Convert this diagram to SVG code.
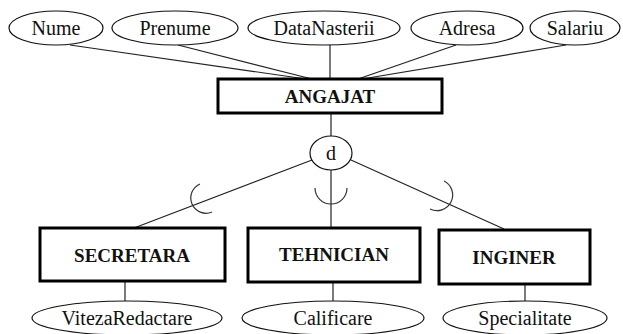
<svg xmlns="http://www.w3.org/2000/svg" width="623" height="334" viewBox="0 0 623 334">
  <style>
    .attr { fill: #fff; stroke: #111; stroke-width: 1.2; }
    .ent { fill: #fff; stroke: #000; stroke-width: 3; }
    .link { fill: none; stroke: #222; stroke-width: 1.2; }
    .sub { fill: none; stroke: #333; stroke-width: 1.2; }
    text { font-family: "Liberation Serif", "Times New Roman", serif; fill: #111; text-anchor: middle; }
    .lbl { font-size: 20px; }
    .ename { font-size: 19px; font-weight: bold; }
  </style>

  <!-- connectors -->
  <g id="connectors">
    <line class="link" x1="70" y1="45" x2="306" y2="79"/>
    <line class="link" x1="178" y1="45" x2="312" y2="79"/>
    <line class="link" x1="330" y1="45" x2="330" y2="79"/>
    <line class="link" x1="456" y1="45" x2="358" y2="79"/>
    <line class="link" x1="566" y1="45" x2="362" y2="79"/>
    <line class="link" x1="331" y1="113" x2="331" y2="136"/>
    <line class="link" x1="312" y1="160" x2="134" y2="228"/>
    <line class="link" x1="331" y1="170" x2="331" y2="228"/>
    <line class="link" x1="351" y1="160" x2="504" y2="229"/>
    <line class="link" x1="125" y1="281" x2="125" y2="301"/>
    <line class="link" x1="333" y1="282" x2="333" y2="301"/>
    <line class="link" x1="525" y1="284" x2="525" y2="301"/>
    <!-- subset marks -->
    <path class="sub" d="M 200 184 A 15 15 0 0 0 212 212"/>
    <path class="sub" d="M 315 188 A 16 16 0 0 0 347 188"/>
    <path class="sub" d="M 444 181 A 15 15 0 0 1 430 209"/>
  </g>

  <!-- top attributes -->
  <g id="attr-nume"><ellipse class="attr" cx="56" cy="28" rx="47" ry="17"/><text class="lbl" x="56" y="35">Nume</text></g>
  <g id="attr-prenume"><ellipse class="attr" cx="175" cy="28" rx="63" ry="17"/><text class="lbl" x="175" y="35">Prenume</text></g>
  <g id="attr-datanasterii"><ellipse class="attr" cx="324" cy="28" rx="76" ry="17"/><text class="lbl" x="324" y="35">DataNasterii</text></g>
  <g id="attr-adresa"><ellipse class="attr" cx="467" cy="28" rx="56" ry="17"/><text class="lbl" x="467" y="35">Adresa</text></g>
  <g id="attr-salariu"><ellipse class="attr" cx="575" cy="28" rx="45" ry="17"/><text class="lbl" x="575" y="35">Salariu</text></g>

  <!-- superclass -->
  <g id="angajat"><rect class="ent" x="218" y="79" width="224" height="34"/><text class="ename" x="330" y="103">ANGAJAT</text></g>

  <!-- disjoint specialization -->
  <g id="disjoint"><ellipse class="attr" cx="331" cy="153" rx="21" ry="17"/><text class="lbl" x="331" y="160">d</text></g>

  <!-- subclasses -->
  <g id="secretara"><rect class="ent" x="40" y="228" width="185" height="53"/><text class="ename" x="132" y="262">SECRETARA</text></g>
  <g id="tehnician"><rect class="ent" x="248" y="228" width="172" height="54"/><text class="ename" x="334" y="261">TEHNICIAN</text></g>
  <g id="inginer"><rect class="ent" x="439" y="230" width="151" height="54"/><text class="ename" x="514" y="264">INGINER</text></g>

  <!-- subclass attributes -->
  <g id="attr-viteza"><ellipse class="attr" cx="127" cy="318" rx="95" ry="17"/><text class="lbl" x="127" y="325">VitezaRedactare</text></g>
  <g id="attr-calificare"><ellipse class="attr" cx="333" cy="318" rx="91" ry="17"/><text class="lbl" x="333" y="325">Calificare</text></g>
  <g id="attr-specialitate"><ellipse class="attr" cx="525" cy="318" rx="82" ry="17"/><text class="lbl" x="525" y="325">Specialitate</text></g>
</svg>
